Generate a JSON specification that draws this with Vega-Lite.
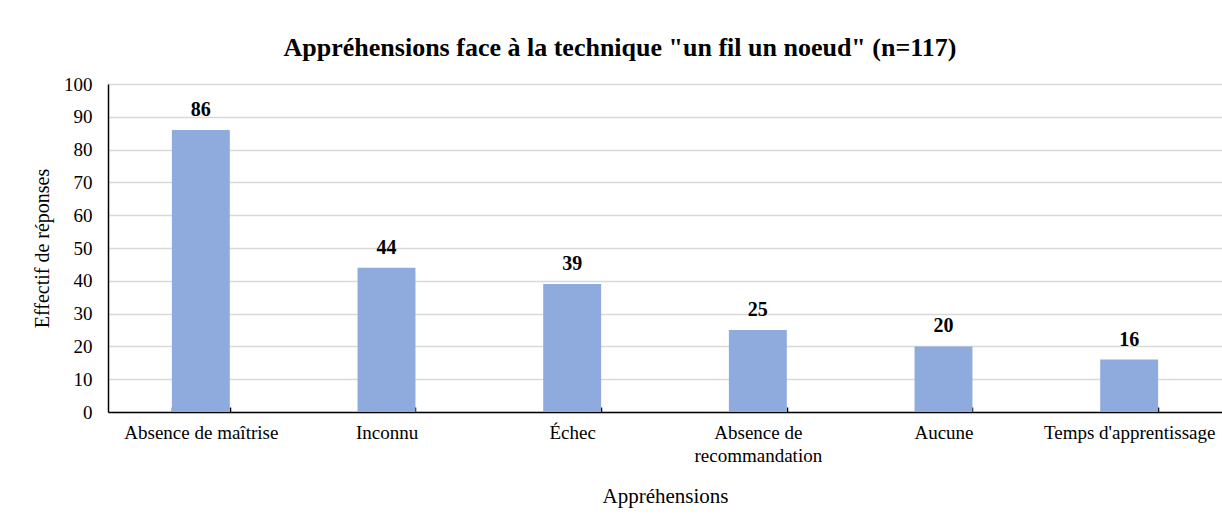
{
  "$schema": "https://vega.github.io/schema/vega-lite/v6.json",
  "autosize": {"type": "none"},
  "width": 1114,
  "height": 328,
  "padding": {"left": 108, "top": 84, "right": 0, "bottom": 104},
  "background": "white",
  "title": {
    "text": "Appréhensions face à la technique \"un fil un noeud\" (n=117)",
    "font": "Liberation Serif",
    "fontSize": 26,
    "fontWeight": "bold",
    "color": "#000000",
    "anchor": "middle",
    "frame": "group",
    "dx": -45,
    "offset": 14
  },
  "data": {
    "values": [
      {"apprehension": "Absence de maîtrise", "effectif": 86},
      {"apprehension": "Inconnu", "effectif": 44},
      {"apprehension": "Échec", "effectif": 39},
      {"apprehension": "Absence de recommandation", "effectif": 25},
      {"apprehension": "Aucune", "effectif": 20},
      {"apprehension": "Temps d'apprentissage", "effectif": 16}
    ]
  },
  "encoding": {
    "x": {
      "field": "apprehension",
      "type": "nominal",
      "sort": null,
      "scale": {"paddingInner": 0.688, "paddingOuter": 0.344},
      "axis": {
        "title": "Appréhensions",
        "titleFont": "Liberation Serif",
        "titleFontSize": 21,
        "titleFontWeight": "normal",
        "titleColor": "#000000",
        "titlePadding": 20,
        "labelAngle": 0,
        "labelFont": "Liberation Serif",
        "labelFontSize": 19,
        "labelColor": "#000000",
        "labelPadding": 16,
        "labelLineHeight": 23,
        "labelExpr": "datum.label == 'Absence de recommandation' ? ['Absence de', 'recommandation'] : datum.label",
        "tickBand": "extent",
        "tickSize": -5,
        "tickColor": "#000000",
        "tickWidth": 1.5,
        "domainColor": "#000000",
        "domainWidth": 1.5,
        "grid": false
      }
    },
    "y": {
      "field": "effectif",
      "type": "quantitative",
      "scale": {"domain": [0, 100]},
      "axis": {
        "title": "Effectif de réponses",
        "titleFont": "Liberation Serif",
        "titleFontSize": 20,
        "titleFontWeight": "normal",
        "titleColor": "#000000",
        "titlePadding": 11,
        "values": [0, 10, 20, 30, 40, 50, 60, 70, 80, 90, 100],
        "labelFont": "Liberation Serif",
        "labelFontSize": 19,
        "labelColor": "#000000",
        "labelPadding": 16,
        "ticks": false,
        "domainColor": "#000000",
        "domainWidth": 1.5,
        "grid": true,
        "gridColor": "#d9d9d9",
        "gridWidth": 1.5
      }
    }
  },
  "layer": [
    {"mark": {"type": "bar", "color": "#8faadc"}},
    {
      "mark": {
        "type": "text",
        "font": "Liberation Serif",
        "fontSize": 20,
        "fontWeight": "bold",
        "color": "#000000",
        "baseline": "bottom",
        "dy": -10
      },
      "encoding": {"text": {"field": "effectif", "type": "quantitative"}}
    }
  ],
  "config": {"view": {"stroke": null}}
}
